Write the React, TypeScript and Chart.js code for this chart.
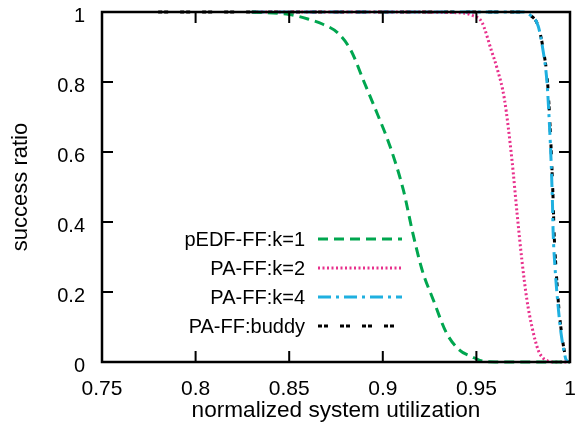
import React, { useEffect, useRef } from "react";
import { Chart, registerables } from "chart.js";

Chart.register(...registerables);

// ---- data ----
const xTicks = [0.75, 0.8, 0.85, 0.9, 0.95, 1];
const yTicks = [0, 0.2, 0.4, 0.6, 0.8, 1];

const seriesLabels = ["pEDF-FF:k=1", "PA-FF:k=2", "PA-FF:k=4", "PA-FF:buddy"];

const pedfK1X = [0.83, 0.85, 0.86, 0.868, 0.876, 0.883, 0.89, 0.897, 0.904, 0.911, 0.916, 0.921, 0.927, 0.934, 0.941, 0.948, 0.953, 0.96, 0.97, 0.98, 0.99, 1.0];
const pedfK1Y = [1.0, 0.993, 0.98, 0.965, 0.94, 0.89, 0.8, 0.71, 0.614, 0.491, 0.369, 0.263, 0.177, 0.083, 0.034, 0.014, 0.003, 0, 0, 0, 0, 0];

const paK2X = [0.83, 0.9, 0.94, 0.948, 0.953, 0.958, 0.961, 0.965, 0.969, 0.9717, 0.9743, 0.977, 0.9797, 0.983, 0.9855, 0.9877, 0.99, 1.0];
const paK2Y = [1, 1, 0.998, 0.99, 0.97, 0.89, 0.84, 0.75, 0.577, 0.426, 0.291, 0.177, 0.1, 0.034, 0.012, 0.004, 0, 0];

const paK4X = [0.83, 0.95, 0.975, 0.979, 0.983, 0.9856, 0.9877, 0.989, 0.99, 0.9906, 0.991, 0.992, 0.9937, 0.9952, 0.997, 0.998, 1.0];
const paK4Y = [1, 1, 1, 0.99, 0.96, 0.89, 0.8, 0.68, 0.56, 0.46, 0.37, 0.27, 0.157, 0.083, 0.026, 0.005, 0];

const buddyX = [0.78, 0.9, 0.975, 0.979, 0.983, 0.9858, 0.988, 0.9893, 0.9903, 0.991, 0.9915, 0.9925, 0.994, 0.9955, 0.9972, 0.9985, 1.0];
const buddyY = [1, 1, 1, 0.99, 0.96, 0.89, 0.8, 0.68, 0.56, 0.46, 0.37, 0.27, 0.157, 0.083, 0.026, 0.005, 0];

const colors = ["#00a64f", "#e8308c", "#1fb0e0", "#000000"];
const dashes = [[10, 6], [2, 2.5], [13, 5, 3, 5], [4, 2, 4, 12]];

const FONT = "'Liberation Sans', Arial, Helvetica, sans-serif";

const zip = (xs: number[], ys: number[]) => xs.map((x, i) => ({ x, y: ys[i] }));

const framePlugin = {
  id: "frame",
  afterDatasetsDraw(chart: any) {
    const { ctx, chartArea: a, scales } = chart;
    const xs = scales.x;
    const ys = scales.y;
    ctx.save();
    ctx.strokeStyle = "#000";
    ctx.lineWidth = 2.5;
    ctx.setLineDash([]);
    ctx.strokeRect(a.left, a.top, a.right - a.left, a.bottom - a.top);
    const tl = 11;
    ctx.lineWidth = 2;
    ctx.beginPath();
    xTicks.forEach((v) => {
      const px = xs.getPixelForValue(v);
      ctx.moveTo(px, a.bottom);
      ctx.lineTo(px, a.bottom - tl);
      ctx.moveTo(px, a.top);
      ctx.lineTo(px, a.top + tl);
    });
    yTicks.forEach((v) => {
      const py = ys.getPixelForValue(v);
      ctx.moveTo(a.left, py);
      ctx.lineTo(a.left + tl, py);
      ctx.moveTo(a.right, py);
      ctx.lineTo(a.right - tl, py);
    });
    ctx.stroke();

    // legend
    const textRight = 305;
    const lineX0 = 318;
    const lineX1 = 402;
    const rowY = [239, 268, 297, 326];
    ctx.font = `20px ${FONT}`;
    ctx.textAlign = "right";
    ctx.textBaseline = "middle";
    chart.data.datasets.forEach((ds: any, i: number) => {
      ctx.fillStyle = "#000";
      ctx.fillText(ds.label, textRight, rowY[i] + 1);
      ctx.strokeStyle = ds.borderColor;
      ctx.lineWidth = 3;
      ctx.setLineDash(ds.borderDash);
      ctx.beginPath();
      ctx.moveTo(lineX0, rowY[i]);
      ctx.lineTo(lineX1, rowY[i]);
      ctx.stroke();
    });
    ctx.restore();
  },
};

export default function App() {
  const ref = useRef<HTMLCanvasElement>(null);
  useEffect(() => {
    document.body.style.margin = "0";
    const seriesX = [pedfK1X, paK2X, paK4X, buddyX];
    const seriesY = [pedfK1Y, paK2Y, paK4Y, buddyY];
    const chart = new Chart(ref.current!, {
      type: "line",
      data: {
        datasets: seriesLabels.map((label, i) => ({
          label,
          data: zip(seriesX[i], seriesY[i]),
          borderColor: colors[i],
          borderDash: dashes[i],
          borderWidth: 3,
          pointRadius: 0,
          fill: false,
          cubicInterpolationMode: "monotone",
          clip: 4,
        })),
      },
      options: {
        responsive: false,
        animation: false,
        layout: { padding: { top: 12, right: 11, left: 0, bottom: 0 } },
        plugins: { legend: { display: false }, tooltip: { enabled: false } },
        scales: {
          x: {
            type: "linear",
            min: 0.75,
            max: 1,
            afterBuildTicks: (s: any) => {
              s.ticks = xTicks.map((v) => ({ value: v }));
            },
            afterFit: (s: any) => {
              s.height = 72;
              s.paddingLeft = 0;
              s.paddingRight = 0;
            },
            grid: { display: false, drawTicks: false },
            border: { display: false },
            ticks: {
              color: "#000",
              padding: 15,
              maxRotation: 0,
              autoSkip: false,
              font: { family: FONT, size: 21 },
              callback: (v: any) => String(v),
            },
            title: {
              display: true,
              text: "normalized system utilization",
              color: "#000",
              font: { family: FONT, size: 22.6 },
              padding: { top: 0, bottom: 10 },
            },
          },
          y: {
            type: "linear",
            min: 0,
            max: 1,
            afterBuildTicks: (s: any) => {
              s.ticks = yTicks.map((v) => ({ value: v }));
            },
            afterFit: (s: any) => {
              s.width = 102;
              s.paddingTop = 0;
              s.paddingBottom = 0;
            },
            grid: { display: false, drawTicks: false },
            border: { display: false },
            ticks: {
              color: "#000",
              padding: 17,
              labelOffset: 4,
              autoSkip: false,
              font: { family: FONT, size: 20 },
              callback: (v: any) => String(v),
            },
            title: {
              display: true,
              text: "success ratio",
              color: "#000",
              font: { family: FONT, size: 22 },
              padding: { top: 8, bottom: 0 },
            },
          },
        },
      },
      plugins: [framePlugin],
    } as any);
    return () => chart.destroy();
  }, []);
  return (
    <div style={{ width: 581, height: 434 }}>
      <canvas ref={ref} width={581} height={434} style={{ display: "block" }} />
    </div>
  );
}
